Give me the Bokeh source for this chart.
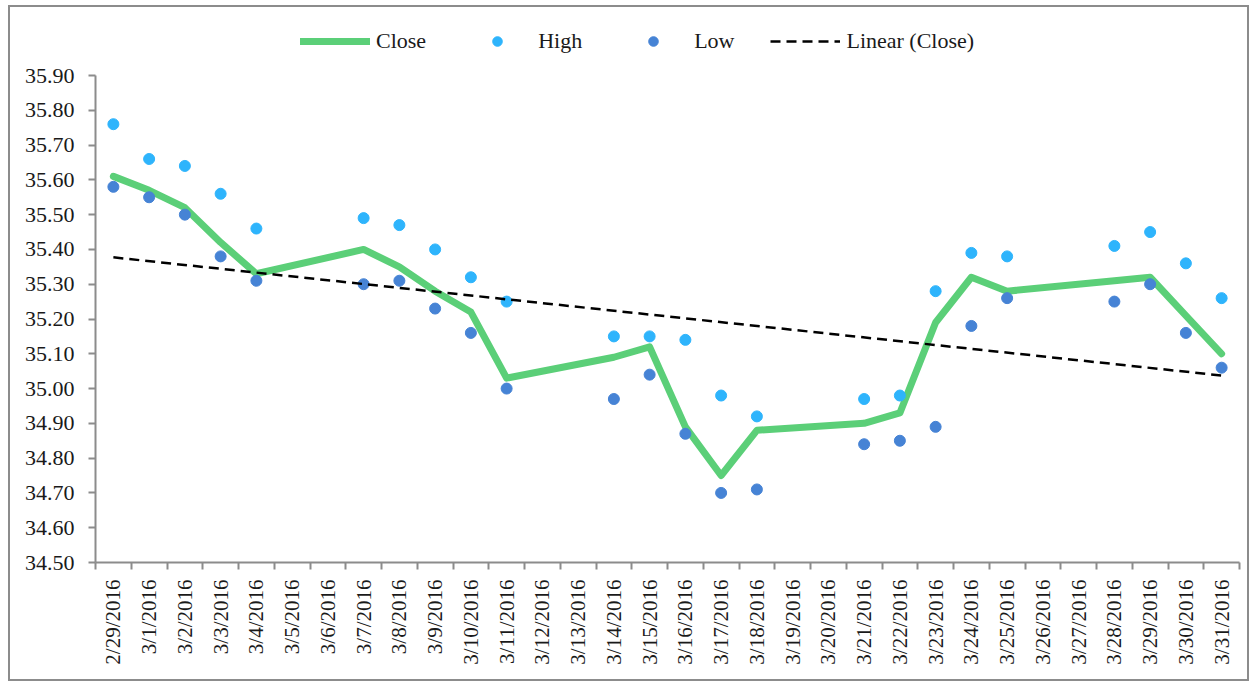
import numpy as np
from bokeh.plotting import figure
from bokeh.models import (FixedTicker, NumeralTickFormatter, Legend, LegendItem,
                          Range1d)
from bokeh.embed import file_html
from bokeh.resources import INLINE

dates = ["2/29/2016", "3/1/2016", "3/2/2016", "3/3/2016", "3/4/2016", "3/5/2016",
         "3/6/2016", "3/7/2016", "3/8/2016", "3/9/2016", "3/10/2016", "3/11/2016",
         "3/12/2016", "3/13/2016", "3/14/2016", "3/15/2016", "3/16/2016", "3/17/2016",
         "3/18/2016", "3/19/2016", "3/20/2016", "3/21/2016", "3/22/2016", "3/23/2016",
         "3/24/2016", "3/25/2016", "3/26/2016", "3/27/2016", "3/28/2016", "3/29/2016",
         "3/30/2016", "3/31/2016"]

N = None
close = [35.61, 35.57, 35.52, 35.42, 35.33, N, N, 35.40, 35.35, 35.28, 35.22, 35.03,
         N, N, 35.09, 35.12, 34.89, 34.75, 34.88, N, N, 34.90, 34.93, 35.19, 35.32,
         35.28, N, N, 35.31, 35.32, 35.21, 35.10]
high = [35.76, 35.66, 35.64, 35.56, 35.46, N, N, 35.49, 35.47, 35.40, 35.32, 35.25,
        N, N, 35.15, 35.15, 35.14, 34.98, 34.92, N, N, 34.97, 34.98, 35.28, 35.39,
        35.38, N, N, 35.41, 35.45, 35.36, 35.26]
low = [35.58, 35.55, 35.50, 35.38, 35.31, N, N, 35.30, 35.31, 35.23, 35.16, 35.00,
       N, N, 34.97, 35.04, 34.87, 34.70, 34.71, N, N, 34.84, 34.85, 34.89, 35.18,
       35.26, N, N, 35.25, 35.30, 35.16, 35.06]

y_ticks = [34.50, 34.60, 34.70, 34.80, 34.90, 35.00, 35.10, 35.20, 35.30, 35.40,
           35.50, 35.60, 35.70, 35.80, 35.90]

GREEN = "#5BCF78"
HIGH_C = "#2EB4FC"
LOW_C = "#4683D5"
AXIS_C = "#8C8C8C"
TEXT_C = "#1a1a1a"
FONT = "Liberation Serif"

# layout (canvas pixels)
AXIS_TOP_PX = 68       # where 35.90 sits
AXIS_BOTTOM_PX = 555   # where 34.50 sits
FRAME_TOP_PX = 8       # frame extends above the axis to hold the legend
CANVAS_H = 676

centers = [i + 0.5 for i in range(len(dates))]


def pts(vals):
    xs = [c for c, v in zip(centers, vals) if v is not None]
    ys = [v for v in vals if v is not None]
    return xs, ys


xc, yc = pts(close)
xh, yh = pts(high)
xl, yl = pts(low)

# linear trend of Close (least squares over trading days)
slope, icpt = np.polyfit(np.array(xc), np.array(yc), 1)
xt = [centers[0], centers[-1]]
yt = [slope * v + icpt for v in xt]

y_lo, y_hi = y_ticks[0], y_ticks[-1]
per_px = (y_hi - y_lo) / (AXIS_BOTTOM_PX - AXIS_TOP_PX)
y_top = y_hi + (AXIS_TOP_PX - FRAME_TOP_PX) * per_px

p = figure(width=1241, height=CANVAS_H, output_backend="svg", toolbar_location=None,
           x_range=Range1d(0, len(dates)), y_range=Range1d(y_lo, y_top),
           min_border_left=85, min_border_right=12, min_border_top=FRAME_TOP_PX,
           min_border_bottom=CANVAS_H - AXIS_BOTTOM_PX)
p.styles = {"border": "2px solid #8c8c8c", "margin": "5px 0px 0px 8px"}
p.outline_line_color = None
p.xgrid.visible = False
p.ygrid.visible = False

r_close = p.line(xc, yc, line_color=GREEN, line_width=7, line_cap="round",
                 line_join="round")
r_high = p.scatter(xh, yh, size=11, fill_color=HIGH_C, line_color=HIGH_C)
r_low = p.scatter(xl, yl, size=11, fill_color=LOW_C, line_color=LOW_C)
r_trend = p.line(xt, yt, line_color="black", line_width=2.5, line_dash="10 6")

# x axis: labels at centres, ticks at category boundaries
xa = p.xaxis[0]
xa.ticker = FixedTicker(ticks=centers, minor_ticks=list(range(len(dates) + 1)))
xa.major_label_overrides = {c: d for c, d in zip(centers, dates)}
xa.major_label_orientation = np.pi / 2
xa.major_tick_out = 0
xa.major_tick_in = 0
xa.minor_tick_out = 7
xa.minor_tick_in = 0
xa.minor_tick_line_color = AXIS_C
xa.minor_tick_line_width = 2
xa.axis_line_color = AXIS_C
xa.axis_line_width = 2
xa.major_label_standoff = 10
xa.major_label_text_font = FONT
xa.major_label_text_font_size = "21px"
xa.major_label_text_color = TEXT_C

ya = p.yaxis[0]
ya.ticker = FixedTicker(ticks=y_ticks)
ya.bounds = (y_lo, y_hi)
ya.formatter = NumeralTickFormatter(format="0.00")
ya.major_tick_out = 7
ya.major_tick_in = 0
ya.minor_tick_line_color = None
ya.major_tick_line_color = AXIS_C
ya.major_tick_line_width = 2
ya.axis_line_color = AXIS_C
ya.axis_line_width = 2
ya.major_label_standoff = 14
ya.major_label_text_font = FONT
ya.major_label_text_font_size = "22px"
ya.major_label_text_color = TEXT_C

legend = Legend(items=[LegendItem(label="Close", renderers=[r_close]),
                       LegendItem(label="High", renderers=[r_high]),
                       LegendItem(label="Low", renderers=[r_low]),
                       LegendItem(label="Linear (Close)", renderers=[r_trend])],
                orientation="horizontal",
                location=(205, AXIS_BOTTOM_PX - 47),
                border_line_alpha=0, background_fill_alpha=0,
                label_text_font=FONT, label_text_font_size="22px",
                label_text_color=TEXT_C,
                glyph_width=70, glyph_height=24, label_height=24,
                label_standoff=6, spacing=36, padding=0, margin=0)
p.add_layout(legend, "center")

open("out.html", "w").write(file_html(p, INLINE))
